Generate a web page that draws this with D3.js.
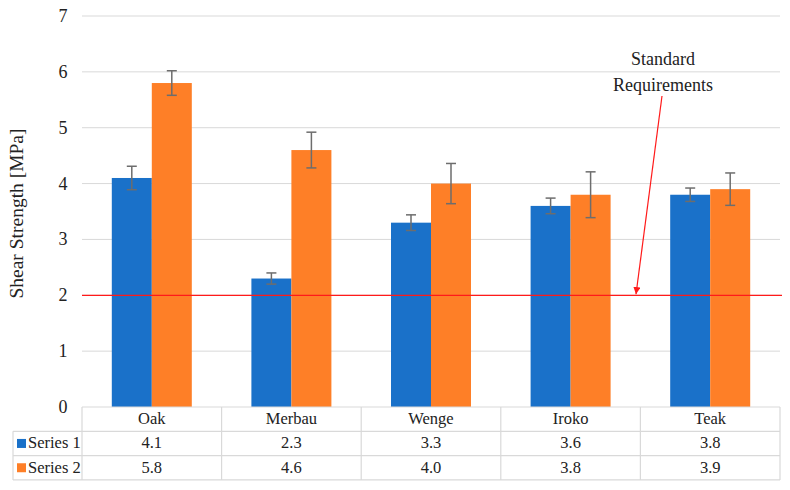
<!DOCTYPE html>
<html lang="en">
<head>
  <meta charset="UTF-8" />
  <title>Shear Strength</title>
  <script src="https://d3js.org/d3.v7.min.js"></script>
  <style>
    body { margin: 0; background: #fff; }
    svg text { fill: #222; font-family: "Liberation Serif", "DejaVu Serif", serif; }
  </style>
</head>
<body>
  <svg></svg>

  <script>
    const categories = ["Oak", "Merbau", "Wenge", "Iroko", "Teak"];
    const seriesNames = ["Series 1", "Series 2"];
    const series1 = [4.1, 2.3, 3.3, 3.6, 3.8];
    const series2 = [5.8, 4.6, 4.0, 3.8, 3.9];
    const err1 = [0.21, 0.1, 0.14, 0.14, 0.12];
    const err2 = [0.22, 0.32, 0.36, 0.41, 0.29];
    const yTicks = [0, 1, 2, 3, 4, 5, 6, 7];
    const standardValue = 2;
    const colors = ["#1a71c9", "#fe7f27"];

    const width = 790, height = 490;
    const plotLeft = 82, plotRight = 780, plotTop = 16, plotBottom = 407;
    const rowH = 24.3;
    const fs = "18px", tableFs = "16.5px";

    const svg = d3.select("svg").attr("width", width).attr("height", height);

    const x = d3.scaleBand().domain(categories).range([plotLeft, plotRight]);
    const xs = d3.scaleBand().domain(seriesNames).range([0, 80]);
    const y = d3.scaleLinear().domain([0, 7]).range([plotBottom, plotTop]);

    // gridlines
    svg.append("g").selectAll("line")
      .data(yTicks.filter(d => d > 0))
      .join("line")
      .attr("x1", plotLeft).attr("x2", plotRight)
      .attr("y1", d => y(d)).attr("y2", d => y(d))
      .attr("stroke", "#d9d9d9").attr("stroke-width", 1);

    svg.append("g").selectAll("text")
      .data(yTicks)
      .join("text")
      .attr("x", 63).attr("y", d => y(d) + 6)
      .attr("text-anchor", "middle")
      .style("font-size", fs)
      .text(d => d);

    svg.append("text")
      .attr("transform", `translate(23,${(plotTop + plotBottom) / 2 + 2}) rotate(-90)`)
      .attr("text-anchor", "middle")
      .style("font-size", "19.5px")
      .text("Shear Strength [MPa]");

    const rows = [series1, series2];
    const errs = [err1, err2];

    rows.forEach((vals, si) => {
      const g = svg.append("g");
      g.selectAll("rect")
        .data(vals)
        .join("rect")
        .attr("x", (d, i) => x(categories[i]) + x.bandwidth() / 2 - 40 + xs(seriesNames[si]))
        .attr("width", xs.bandwidth())
        .attr("y", d => y(d))
        .attr("height", d => plotBottom - y(d))
        .attr("fill", colors[si]);

      const eb = g.selectAll("g.err")
        .data(vals.map((v, i) => ({ v, e: errs[si][i], cx: x(categories[i]) + x.bandwidth() / 2 - 40 + xs(seriesNames[si]) + xs.bandwidth() / 2 })))
        .join("g")
        .attr("stroke", "#6d6d6d").attr("stroke-width", 1.5);
      eb.append("line").attr("x1", d => d.cx).attr("x2", d => d.cx)
        .attr("y1", d => y(d.v + d.e)).attr("y2", d => y(d.v - d.e));
      eb.append("line").attr("x1", d => d.cx - 5).attr("x2", d => d.cx + 5)
        .attr("y1", d => y(d.v + d.e)).attr("y2", d => y(d.v + d.e));
      eb.append("line").attr("x1", d => d.cx - 5).attr("x2", d => d.cx + 5)
        .attr("y1", d => y(d.v - d.e)).attr("y2", d => y(d.v - d.e));
    });

    // standard requirement line
    svg.append("line")
      .attr("x1", plotLeft).attr("x2", plotRight + 2)
      .attr("y1", y(standardValue)).attr("y2", y(standardValue))
      .attr("stroke", "#ff1a1a").attr("stroke-width", 1.2);

    svg.append("defs").append("marker")
      .attr("id", "arrow").attr("viewBox", "0 0 10 10")
      .attr("refX", 10).attr("refY", 5)
      .attr("markerWidth", 6).attr("markerHeight", 6)
      .attr("orient", "auto")
      .append("path").attr("d", "M0,0 L10,5 L0,10 z").attr("fill", "#ff1a1a");

    svg.append("line")
      .attr("x1", 662).attr("y1", 96)
      .attr("x2", 636).attr("y2", y(standardValue) - 1)
      .attr("stroke", "#ff1a1a").attr("stroke-width", 1.2)
      .attr("marker-end", "url(#arrow)");

    svg.append("text").attr("x", 663).attr("y", 65)
      .attr("text-anchor", "middle").style("font-size", fs).text("Standard");
    svg.append("text").attr("x", 663).attr("y", 91)
      .attr("text-anchor", "middle").style("font-size", fs).text("Requirements");

    // data table
    const tg = svg.append("g").attr("stroke", "#d9d9d9").attr("stroke-width", 1.2);
    const tBottom = plotBottom + rowH * 3;
    tg.append("line").attr("x1", plotLeft).attr("x2", plotRight).attr("y1", plotBottom).attr("y2", plotBottom);
    [1, 2, 3].forEach(r => {
      tg.append("line").attr("x1", 13).attr("x2", plotRight)
        .attr("y1", plotBottom + rowH * r).attr("y2", plotBottom + rowH * r);
    });
    tg.append("line").attr("x1", 13).attr("x2", 13).attr("y1", plotBottom + rowH).attr("y2", tBottom);
    categories.forEach(c => {
      tg.append("line").attr("x1", x(c)).attr("x2", x(c)).attr("y1", plotBottom).attr("y2", tBottom);
    });
    tg.append("line").attr("x1", plotRight).attr("x2", plotRight).attr("y1", plotBottom).attr("y2", tBottom);

    svg.append("g").selectAll("text")
      .data(categories)
      .join("text")
      .attr("x", d => x(d) + x.bandwidth() / 2)
      .attr("y", plotBottom + rowH / 2 + 5)
      .attr("text-anchor", "middle")
      .style("font-size", tableFs)
      .text(d => d);

    rows.forEach((vals, si) => {
      const ry = plotBottom + rowH * (si + 1);
      svg.append("rect")
        .attr("x", 17).attr("y", ry + rowH / 2 - 4.5)
        .attr("width", 9).attr("height", 9)
        .attr("fill", colors[si]);
      svg.append("text")
        .attr("x", 28).attr("y", ry + rowH / 2 + 5)
        .style("font-size", tableFs)
        .text(seriesNames[si]);
      svg.append("g").selectAll("text")
        .data(vals)
        .join("text")
        .attr("x", (d, i) => x(categories[i]) + x.bandwidth() / 2)
        .attr("y", ry + rowH / 2 + 5)
        .attr("text-anchor", "middle")
        .style("font-size", tableFs)
        .text(d => d.toFixed(1));
    });
  </script>
</body>
</html>
